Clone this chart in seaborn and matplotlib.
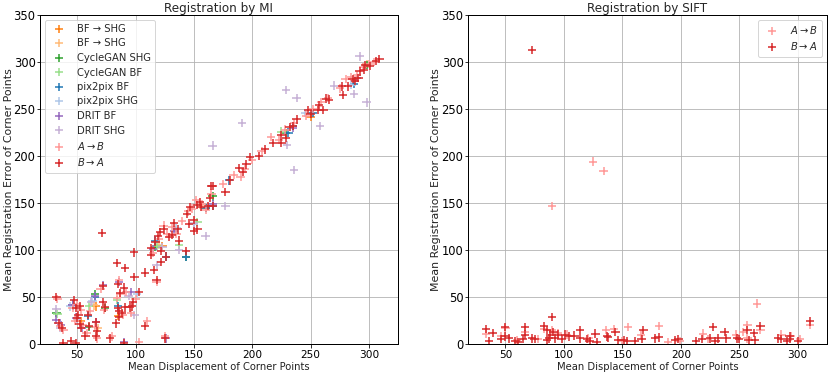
import numpy as np
import pandas as pd
import matplotlib
matplotlib.use("Agg")
import matplotlib.pyplot as plt
import seaborn as sns

# ---------------- data: Registration by MI ----------------
mi_ba_x = [32, 34, 37, 38, 45, 47, 49, 51, 50, 52, 52, 53, 49, 57, 59, 60, 66, 67, 66, 72, 72, 74, 78,
           71, 83, 85, 86, 86, 88, 90, 91, 95, 97, 98, 84, 91, 98.6, 99, 103, 108, 108, 116, 118, 113,
           113, 117, 119, 121, 124, 122, 122, 126, 125, 129, 131, 133, 136, 137, 144, 146, 143, 147,
           150, 150, 153, 153, 156, 155, 162, 164, 166, 166, 177, 181, 165, 189, 192, 195, 198, 206,
           211, 218, 225, 225, 229, 232, 235, 238, 248, 250, 256, 257, 261, 263, 266, 277, 278, 282,
           286, 288, 291, 292, 296, 297, 301, 306, 309, 85, 90, 87]
mi_ba_y = [50, 22, 17, 1, 3, 47, 38, 31, 28, 40, 21, 17, 1, 9, 31, 19, 8, 14, 23, 62, 45, 39, 6,
           118, 22, 38, 35, 29, 33, 1, 39, 39, 40, 45, 86, 81, 97.5, 71, 55, 76, 19, 79, 68, 95,
           102, 109, 115, 119, 122, 87, 99, 93, 6, 114, 116, 129, 122, 110, 138, 128, 99, 146,
           120, 132, 122, 148, 146, 151, 147, 155, 168, 147, 162, 174, 168, 187, 183, 191, 199, 200,
           207, 214, 214, 222, 219, 231, 232, 239, 249, 245, 249, 254, 249, 261, 260, 274, 265, 274,
           282, 280, 283, 290, 292, 297, 296, 301, 303, 64, 60, 54]

mi_ab_x = [33, 35, 38, 46, 48, 50, 53, 55, 58, 61, 65, 67, 70, 73, 80, 84, 87, 89, 92, 96, 100,
           103, 110, 115, 118, 120, 124, 127, 131, 135, 140, 145, 148, 152, 157, 160, 165, 175, 184,
           190, 194, 200, 208, 216, 223, 228, 236, 246, 252, 259, 265, 275, 280, 285, 290, 295, 300,
           304, 125, 86]
mi_ab_y = [48, 19, 15, 38, 25, 43, 36, 20, 12, 35, 18, 6, 59, 36, 8, 49, 53, 31, 55, 33, 48,
           2, 24, 97, 66, 112, 126, 117, 124, 117, 131, 141, 144, 153, 149, 143, 160, 170, 180,
           178, 186, 196, 205, 220, 217, 228, 235, 243, 250, 257, 262, 272, 282, 284, 286, 295, 298,
           300, 8, 68]

mi_drit_shg_x = [32, 35, 99, 137, 160, 166, 177, 191, 229, 236, 238, 258, 287, 292, 298, 50, 62, 94,
                 123, 150, 230, 270, 118]
mi_drit_shg_y = [37, 17, 31, 100, 115, 211, 147, 235, 270, 185, 262, 232, 266, 306, 257, 27, 45, 51,
                 103, 129, 212, 275, 84]
mi_drit_bf_x = [32, 36, 46, 49, 65, 72, 86, 96, 115, 90, 126, 66, 133, 166, 235, 290, 54]
mi_drit_bf_y = [26, 20, 41, 28, 51, 63, 66, 55, 101, 2, 6, 23, 120, 149, 230, 283, 17]
mi_p2p_bf_x = [46, 65, 180, 126, 235, 252, 166, 160, 143, 117, 59, 85, 231, 287]
mi_p2p_bf_y = [42, 50, 174, 93, 232, 246, 147, 145, 93, 110, 30, 40, 225, 277]
mi_p2p_shg_x = [44, 63, 101, 135, 150, 245, 285]
mi_p2p_shg_y = [40, 46, 53, 123, 128, 246, 276]
mi_cg_shg_x = [32, 65, 74, 143, 117, 166, 229, 298, 60]
mi_cg_shg_y = [33, 53, 38, 93, 103, 157, 224, 297, 18]
mi_cg_bf_x = [33, 60, 137, 118, 153, 84, 225]
mi_cg_bf_y = [32, 40, 105, 104, 130, 47, 226]
mi_bf_shg_x = [66, 160, 123, 85, 53, 250]
mi_bf_shg_y = [40, 145, 104, 30, 24, 242]
mi_bf_shg2_x = [64, 155, 298, 120, 68]
mi_bf_shg2_y = [41, 148, 298, 105, 17]

# ---------------- data: Registration by SIFT ----------------
sift_ba_x = [72.7, 90, 33.5, 36, 39, 46, 49.4, 50, 53, 58.5, 61, 65, 67, 67, 73, 75, 83, 85.5, 85.5, 87,
             88, 91, 92.6, 95, 98, 101, 104.5, 109, 114, 114, 119.6, 122, 127, 128, 137, 137.5, 144,
             146.6, 151, 154, 161, 166.5, 168, 178, 181, 195, 198, 213, 218, 225, 227.6, 229.5, 232,
             237.5, 239, 248, 250, 257, 258, 262.5, 263.6, 268, 283, 286, 290.6, 293, 293.5, 300, 310.5]
sift_ba_y = [313, 29, 16, 3, 12, 5, 18, 8, 6, 3, 2, 5, 18, 10, 6, 5, 19, 15, 4, 6,
             10, 13, 6, 10, 5, 10, 8, 9, 15, 6, 5, 3, 11, 2, 8, 7, 13,
             4, 4, 3, 3, 5, 15, 6, 7, 4, 5, 3, 5, 6, 18, 3, 6,
             13, 6, 6, 5, 15, 4, 12, 4, 19, 6, 5, 3, 8, 5, 3, 24]
sift_ab_x = [125, 134, 90, 33.5, 46, 50, 67, 78, 83, 89.8, 95, 102.6, 136, 143, 155, 166, 181.5, 189,
             219, 223, 247, 253, 257, 265, 268, 286, 294, 302, 310.5, 257, 121, 60, 150, 199]
sift_ab_y = [194, 184, 147, 11, 8, 17, 13, 5, 16, 15, 12, 10, 15, 16, 18, 10, 19, 2,
             11, 5, 10, 13, 20, 43, 15, 10, 8, 5, 20, 6, 6, 4, 3, 3]

AB = r"$A{\to}B$"
BA = r"$B{\to}A$"
mi_series = [
    ("BF → SHG", mi_bf_shg_x, mi_bf_shg_y),
    ("BF → SHG ", mi_bf_shg2_x, mi_bf_shg2_y),
    ("CycleGAN SHG", mi_cg_shg_x, mi_cg_shg_y),
    ("CycleGAN BF", mi_cg_bf_x, mi_cg_bf_y),
    ("pix2pix BF", mi_p2p_bf_x, mi_p2p_bf_y),
    ("pix2pix SHG", mi_p2p_shg_x, mi_p2p_shg_y),
    ("DRIT BF", mi_drit_bf_x, mi_drit_bf_y),
    ("DRIT SHG", mi_drit_shg_x, mi_drit_shg_y),
    (AB, mi_ab_x, mi_ab_y),
    (BA, mi_ba_x, mi_ba_y),
]
sift_series = [
    (AB, sift_ab_x, sift_ab_y),
    (BA, sift_ba_x, sift_ba_y),
]

tab20 = plt.get_cmap("tab20").colors
mi_palette = {}
for col, (name, _, _) in zip([2, 3, 4, 5, 0, 1, 8, 9, 7, 6], mi_series):
    mi_palette[name] = tab20[col]
sift_palette = {AB: tab20[7], BA: tab20[6]}


def to_df(series):
    rows = []
    for name, xs, ys in series:
        for x, y in zip(xs, ys):
            rows.append((x, y, name))
    return pd.DataFrame(rows, columns=["x", "y", "method"])


df_mi = to_df(mi_series)
df_sift = to_df(sift_series)

sns.set_style("whitegrid")
plt.rcParams.update({
    "font.family": ["DejaVu Sans"],
    "font.size": 10,
    "axes.edgecolor": "black",
    "axes.linewidth": 1.0,
    "grid.color": "#b0b0b0",
    "grid.linewidth": 0.8,
    "xtick.bottom": True,
    "ytick.left": True,
    "xtick.color": "black",
    "ytick.color": "black",
    "axes.labelcolor": "#222222",
})

fig = plt.figure(figsize=(831 / 72, 375 / 72), dpi=72)
ax1 = fig.add_axes([40 / 831, 31 / 375, 358 / 831, 329 / 375])
ax2 = fig.add_axes([468 / 831, 31 / 375, 359 / 831, 329 / 375])

for ax, df, series, pal, title in [
    (ax1, df_mi, mi_series, mi_palette, "Registration by MI"),
    (ax2, df_sift, sift_series, sift_palette, "Registration by SIFT"),
]:
    sns.scatterplot(data=df, x="x", y="y", hue="method",
                    hue_order=[s[0] for s in series], palette=pal,
                    marker="+", s=70, linewidth=1.5, ax=ax)
    ax.set_xlim(18, 325)
    ax.set_ylim(0, 350)
    ax.set_xticks([50, 100, 150, 200, 250, 300])
    ax.set_yticks([0, 50, 100, 150, 200, 250, 300, 350])
    ax.set_title(title, fontsize=12, pad=3)
    ax.set_xlabel("Mean Displacement of Corner Points", fontsize=10, labelpad=2)
    ax.set_ylabel("Mean Registration Error of Corner Points", fontsize=11)
    ax.yaxis.set_label_coords(-0.074, 0.5)
    ax.tick_params(axis="x", labelsize=10.5, length=3.5, width=0.8, pad=2)
    ax.tick_params(axis="y", labelsize=11.5, length=3.5, width=0.8, pad=1)
    ax.grid(True)
    for sp in ax.spines.values():
        sp.set_color("black")

ax1.legend(loc="upper left", fontsize=10, framealpha=0.8, handletextpad=0.8,
           labelspacing=0.45)
ax2.legend(loc="upper right", fontsize=10, framealpha=0.8, handletextpad=0.8,
           labelspacing=0.45)

fig.savefig("out.png", dpi=72)
